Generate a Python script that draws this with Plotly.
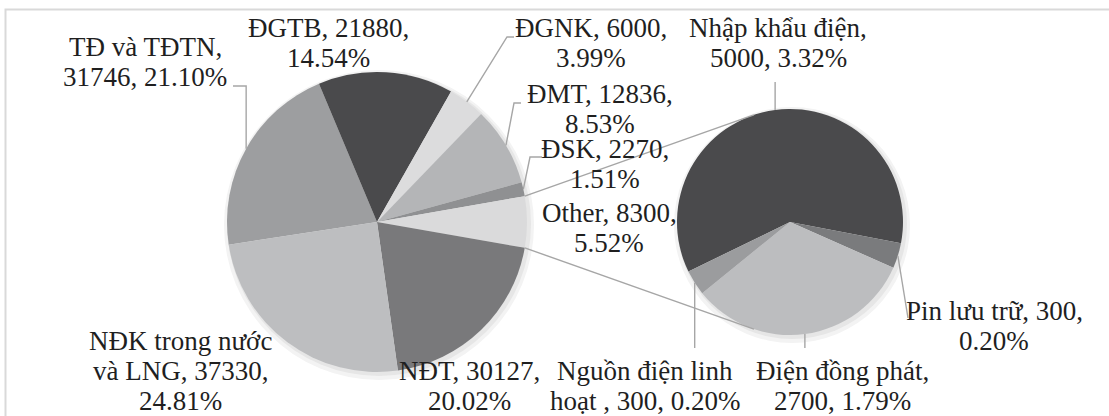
import math
import plotly.graph_objects as go

W, H = 1109, 416

# main pie, listed clockwise
MAIN_LABELS = ["TĐ và TĐTN", "ĐGTB", "ĐGNK", "ĐMT", "ĐSK", "Other", "NĐT", "NĐK trong nước và LNG"]
MAIN_VALUES = [31746, 21880, 6000, 12836, 2270, 8300, 30127, 37330]
MAIN_COLORS = ["#9d9ea0", "#4a4a4c", "#dcdcdd", "#b4b5b7", "#8f9092", "#dadadb", "#79797b", "#bdbec0"]

# secondary pie ("Other" split), listed clockwise
SUB_LABELS = ["Nhập khẩu điện", "Pin lưu trữ", "Điện đồng phát", "Nguồn điện linh hoạt "]
SUB_VALUES = [5000, 300, 2700, 300]
SUB_COLORS = ["#4a4a4c", "#7a7b7d", "#bcbdbf", "#9b9c9e"]

TOTAL = sum(MAIN_VALUES)

# pie geometry in pixels
MAIN_CX, MAIN_CY, MAIN_R = 377, 222, 150
SUB_CX, SUB_CY, SUB_R = 790, 222, 113
SUB_ROTATION = -116
CONNECT_ANGLE = 18.6

FONT = dict(family="Liberation Serif, Times New Roman, serif", size=27, color="#1f1f1f")
LINE_H = 30
LEADER = dict(color="#a6a6a6", width=1.4)

# label placement: centre x, first baseline, line templates
LABEL_POS = {
    "TĐ và TĐTN": (145, 56, ["{n},", "{v}, {p}"]),
    "ĐGTB": (328, 37, ["{n}, {v},", "{p}"]),
    "ĐGNK": (591, 37, ["{n}, {v},", "{p}"]),
    "ĐMT": (600, 103, ["{n}, {v},", "{p}"]),
    "ĐSK": (605, 158, ["{n}, {v},", "{p}"]),
    "Other": (609, 222, ["{n}, {v},", "{p}"]),
    "NĐT": (469, 380, ["{n}, {v},", "{p}"]),
    "NĐK trong nước và LNG": (180, 350, ["NĐK trong nước", "và LNG, {v},", "{p}"]),
    "Nhập khẩu điện": (778, 37, ["{n},", "{v}, {p}"]),
    "Pin lưu trữ": (994, 320, ["{n}, {v},", "{p}"]),
    "Điện đồng phát": (843, 380, ["{n},", "{v}, {p}"]),
    "Nguồn điện linh hoạt ": (645, 380, ["Nguồn điện linh", "hoạt , {v}, {p}"]),
}

# leader lines: label-side points, None x = straight above/below the slice point
LEADERS = {
    "TĐ và TĐTN": [(233, 86), (None, 86)],
    "ĐGNK": [(514, 37), (507, 37)],
    "ĐMT": [(521, 103), (514, 103)],
    "ĐSK": [(542, 157), (530, 157)],
    "Nhập khẩu điện": [(None, 82)],
    "Pin lưu trữ": [(908, 318)],
    "Điện đồng phát": [(None, 348)],
    "Nguồn điện linh hoạt ": [(None, 348)],
}

main_rotation = 90 - (sum(MAIN_VALUES[:5]) + MAIN_VALUES[5] / 2) / TOTAL * 360


def px(x, y):
    return x / W, 1 - y / H


def polar(cx, cy, r, ang):
    a = math.radians(ang)
    return cx + r * math.sin(a), cy - r * math.cos(a)


def mid_angles(values, rotation):
    tot = sum(values)
    out, cur = [], rotation
    for v in values:
        out.append(cur + v / tot * 180)
        cur += v / tot * 360
    return out


def domain(cx, cy, r):
    return dict(x=[(cx - r) / W, (cx + r) / W], y=[1 - (cy + r) / H, 1 - (cy - r) / H])


def circle(cx, cy, r, color):
    x0, y1 = px(cx - r, cy - r)
    x1, y0 = px(cx + r, cy + r)
    return dict(type="circle", xref="paper", yref="paper", x0=x0, x1=x1, y0=y0, y1=y1,
                fillcolor=color, line=dict(width=0), layer="below")


fig = go.Figure()
fig.add_trace(go.Pie(
    values=MAIN_VALUES, labels=MAIN_LABELS, sort=False, direction="clockwise",
    rotation=main_rotation, marker=dict(colors=MAIN_COLORS, line=dict(width=0)),
    textinfo="none", hoverinfo="label+value+percent",
    domain=domain(MAIN_CX, MAIN_CY, MAIN_R),
))
fig.add_trace(go.Pie(
    values=SUB_VALUES, labels=SUB_LABELS, sort=False, direction="clockwise",
    rotation=SUB_ROTATION, marker=dict(colors=SUB_COLORS, line=dict(width=0)),
    textinfo="none", hoverinfo="label+value",
    domain=domain(SUB_CX, SUB_CY, SUB_R),
))

shapes = [dict(type="rect", xref="paper", yref="paper",
               x0=5.5 / W, x1=1.05, y0=-0.05, y1=1 - 9.5 / H,
               line=dict(color="#d9d9d9", width=2), layer="below")]

# soft shadow under both pies
for cx, cy, r in [(MAIN_CX, MAIN_CY, MAIN_R), (SUB_CX, SUB_CY, SUB_R)]:
    shapes.append(circle(cx + 2, cy + 3, r + 5, "#f3f3f3"))
    shapes.append(circle(cx + 2, cy + 2, r + 2, "#e6e6e6"))

# edge points of every slice
edge = {}
for lab, ang in zip(MAIN_LABELS, mid_angles(MAIN_VALUES, main_rotation)):
    edge[lab] = polar(MAIN_CX, MAIN_CY, MAIN_R, ang)
for lab, ang in zip(SUB_LABELS, mid_angles(SUB_VALUES, SUB_ROTATION)):
    edge[lab] = polar(SUB_CX, SUB_CY, SUB_R, ang)


def path(points):
    segs = []
    for i, (x, y) in enumerate(points):
        xp, yp = px(x, y)
        segs.append(("M" if i == 0 else "L") + f"{xp:.5f},{yp:.5f}")
    return " ".join(segs)


for lab, pts in LEADERS.items():
    ex, ey = edge[lab]
    full = [(ex if x is None else x, y) for x, y in pts] + [(ex, ey)]
    shapes.append(dict(type="path", xref="paper", yref="paper", path=path(full), line=LEADER))

# connector lines between the "Other" slice and the secondary pie
other_start = main_rotation + sum(MAIN_VALUES[:5]) / TOTAL * 360
other_end = other_start + MAIN_VALUES[5] / TOTAL * 360
p_top = polar(MAIN_CX, MAIN_CY, MAIN_R, other_start)
p_bot = polar(MAIN_CX, MAIN_CY, MAIN_R, other_end)
s_top = polar(SUB_CX, SUB_CY, SUB_R, -CONNECT_ANGLE)
s_bot = polar(SUB_CX, SUB_CY, SUB_R, 180 + CONNECT_ANGLE)
shapes.append(dict(type="path", xref="paper", yref="paper", path=path([p_top, s_top]), line=LEADER))
shapes.append(dict(type="path", xref="paper", yref="paper", path=path([p_bot, s_bot]), line=LEADER))

annotations = []
all_vals = dict(zip(MAIN_LABELS, MAIN_VALUES))
all_vals.update(zip(SUB_LABELS, SUB_VALUES))
for lab, (cx, base, lines) in LABEL_POS.items():
    v = all_vals[lab]
    pct = f"{v / TOTAL * 100:.2f}%"
    for i, tpl in enumerate(lines):
        txt = tpl.format(n=lab, v=v, p=pct)
        xp, yp = px(cx, base + i * LINE_H - 9)
        annotations.append(dict(text=txt, x=xp, y=yp, xref="paper", yref="paper",
                                xanchor="center", yanchor="middle", showarrow=False, font=FONT))

fig.update_layout(
    width=W, height=H,
    margin=dict(l=0, r=0, t=0, b=0),
    paper_bgcolor="white",
    plot_bgcolor="white",
    showlegend=False,
    shapes=shapes,
    annotations=annotations,
)

fig.write_html("out.html", config={"displayModeBar": False},
               post_script="document.body.style.margin = '0';")
